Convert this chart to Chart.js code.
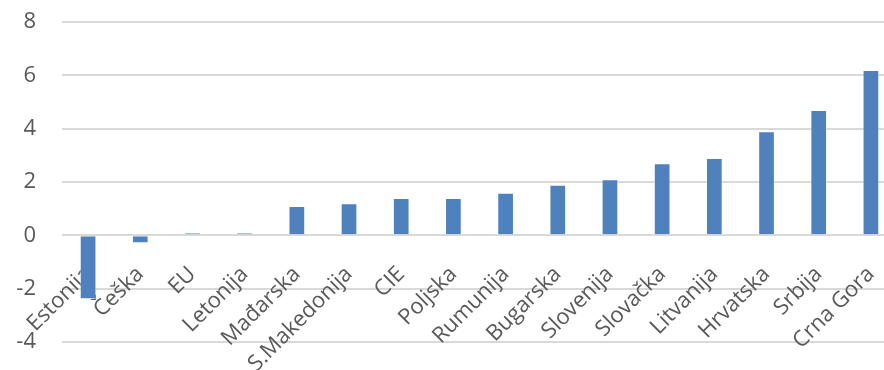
<!DOCTYPE html>
<html>
<head>
<meta charset="utf-8">
<script src="https://cdn.jsdelivr.net/npm/chart.js@4/dist/chart.umd.min.js"></script>
<style>
  html, body { margin: 0; padding: 0; background: #fff; overflow: hidden; }
  #wrap { position: relative; width: 898px; height: 370px; }
</style>
</head>
<body>
<div id="wrap"><canvas id="chart"></canvas></div>
<script>
const zemlje = ['Estonija', 'Češka', 'EU', 'Letonija', 'Mađarska', 'S.Makedonija', 'CIE', 'Poljska',
  'Rumunija', 'Bugarska', 'Slovenija', 'Slovačka', 'Litvanija', 'Hrvatska', 'Srbija', 'Crna Gora'];
const vrijednosti = [-2.4, -0.3, 0.1, 0.1, 1.1, 1.2, 1.4, 1.4, 1.6, 1.9, 2.1, 2.7, 2.9, 3.9, 4.7, 6.2];
const yMin = -4, yMax = 8, yKorak = 2;

const siva = '#595959';
const font = { family: '"Open Sans", sans-serif', size: 22 };

// bez automatskog paddinga skala, da raspored odredi layout.padding
const bezPaddinga = s => {
  s.paddingTop = 0; s.paddingBottom = 0; s.paddingLeft = 0; s.paddingRight = 0;
};

new Chart(document.getElementById('chart'), {
  type: 'bar',
  data: {
    labels: zemlje,
    datasets: [{
      data: vrijednosti,
      backgroundColor: '#4f81bd',
      borderColor: 'rgba(255,255,255,0.45)',
      borderWidth: 1,
      categoryPercentage: 1,
      barPercentage: 0.32
    }]
  },
  options: {
    responsive: true,
    maintainAspectRatio: false,
    animation: false,
    layout: { padding: { top: 22, bottom: 28, left: 0, right: 1 } },
    plugins: { legend: { display: false }, tooltip: { enabled: false } },
    scales: {
      x: {
        position: { y: 0 },
        z: 1,
        grid: { display: false, drawTicks: false },
        border: { display: false },
        ticks: {
          color: siva, font: font,
          maxRotation: 45, minRotation: 45,
          autoSkip: false, padding: 26
        },
        afterFit: bezPaddinga
      },
      y: {
        min: yMin, max: yMax,
        grid: { color: '#d9d9d9', lineWidth: 2, drawTicks: false },
        border: { display: false },
        ticks: { stepSize: yKorak, color: siva, font: font, padding: 26 },
        afterFit: s => { bezPaddinga(s); s.width = 62; }
      }
    }
  }
});
</script>
</body>
</html>
